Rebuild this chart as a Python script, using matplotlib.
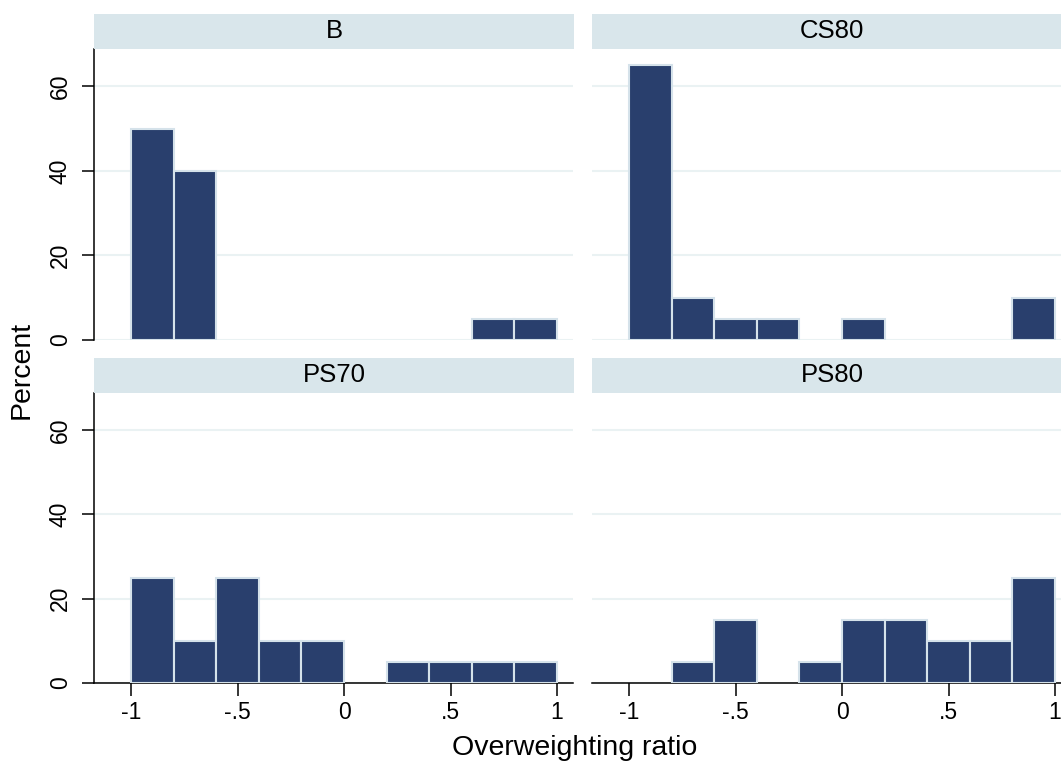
import matplotlib
matplotlib.use("Agg")
import matplotlib.pyplot as plt
import numpy as np

plt.rcParams['font.family'] = ['Liberation Sans', 'DejaVu Sans']

# histogram bins (width .2, from -1 to 1), percent per bin
bin_edges = [-1.0, -0.8, -0.6, -0.4, -0.2, 0.0, 0.2, 0.4, 0.6, 0.8]
panels = ["B", "CS80", "PS70", "PS80"]
pct_B = [50, 40, 0, 0, 0, 0, 0, 0, 5, 5]
pct_CS80 = [65, 10, 5, 5, 0, 5, 0, 0, 0, 10]
pct_PS70 = [25, 10, 25, 10, 10, 0, 5, 5, 5, 5]
pct_PS80 = [0, 5, 15, 0, 5, 15, 15, 10, 10, 25]
values = [pct_B, pct_CS80, pct_PS70, pct_PS80]

xticks = [-1, -0.5, 0, 0.5, 1]
xtick_labels = ["-1", "-.5", "0", ".5", "1"]
yticks = [0, 20, 40, 60]

W, H = 1061, 761
fig = plt.figure(figsize=(W / 100, H / 100), dpi=100)
fig.patch.set_facecolor("white")

bar_col = "#293f6d"
edge_col = "#d5e2ea"
strip_col = "#d9e6eb"
grid_col = "#eaf2f3"


def px_axes(x0, y0, x1, y1):
    return fig.add_axes([x0 / W, 1 - y1 / H, (x1 - x0) / W, (y1 - y0) / H])


boxes = [(94, 49, 573, 340), (592, 49, 1071, 340),
         (94, 393, 573, 683), (592, 393, 1071, 683)]

for i, (name, vals) in enumerate(zip(panels, values)):
    x0, y0, x1, y1 = boxes[i]
    ax = px_axes(x0, y0, x1, y1)
    top_row = i < 2
    left_col = i % 2 == 0

    xs = [e for e, v in zip(bin_edges, vals) if v > 0]
    hs = [v for v in vals if v > 0]
    ax.bar(xs, hs, width=0.2, align='edge', color=bar_col,
           edgecolor=edge_col, linewidth=1.5, zorder=3)

    ax.set_xlim(-1.174, 1.075)
    ax.set_ylim(0, 68.8)
    ax.set_yticks(yticks)
    ax.grid(axis='y', color=grid_col, linewidth=1.5, zorder=0)
    ax.set_axisbelow(True)

    for s in ['top', 'right']:
        ax.spines[s].set_visible(False)

    if left_col:
        ax.spines['left'].set_linewidth(1.1)
        ax.tick_params(axis='y', length=9, width=1.1, labelsize=16.5,
                       labelrotation=90, pad=7)
        for lab in ax.get_yticklabels():
            lab.set_va('center')
    else:
        ax.spines['left'].set_visible(False)
        ax.tick_params(axis='y', length=0, labelleft=False)

    if top_row:
        ax.spines['bottom'].set_visible(False)
        ax.tick_params(axis='x', length=0, labelbottom=False)
    else:
        ax.spines['bottom'].set_linewidth(1.1)
        ax.set_xticks(xticks)
        ax.set_xticklabels(xtick_labels)
        ax.tick_params(axis='x', length=9, width=1.1, labelsize=16.5, pad=4)

    # strip title
    sx = px_axes(x0, y0 - 35, x0 + 480, y0)
    sx.set_facecolor(strip_col)
    sx.set_xticks([])
    sx.set_yticks([])
    for s in sx.spines.values():
        s.set_visible(False)
    sx.text(0.5, 0.5, name, ha='center', va='center', fontsize=18.5,
            transform=sx.transAxes)

fig.text(22 / W, 1 - 370 / H, "Percent", rotation=90, ha='center',
         va='center', fontsize=20.5)
fig.text(575 / W, 1 - 755 / H, "Overweighting ratio", ha='center',
         va='baseline', fontsize=20.5)

fig.savefig("out.png", dpi=100, facecolor="white")
